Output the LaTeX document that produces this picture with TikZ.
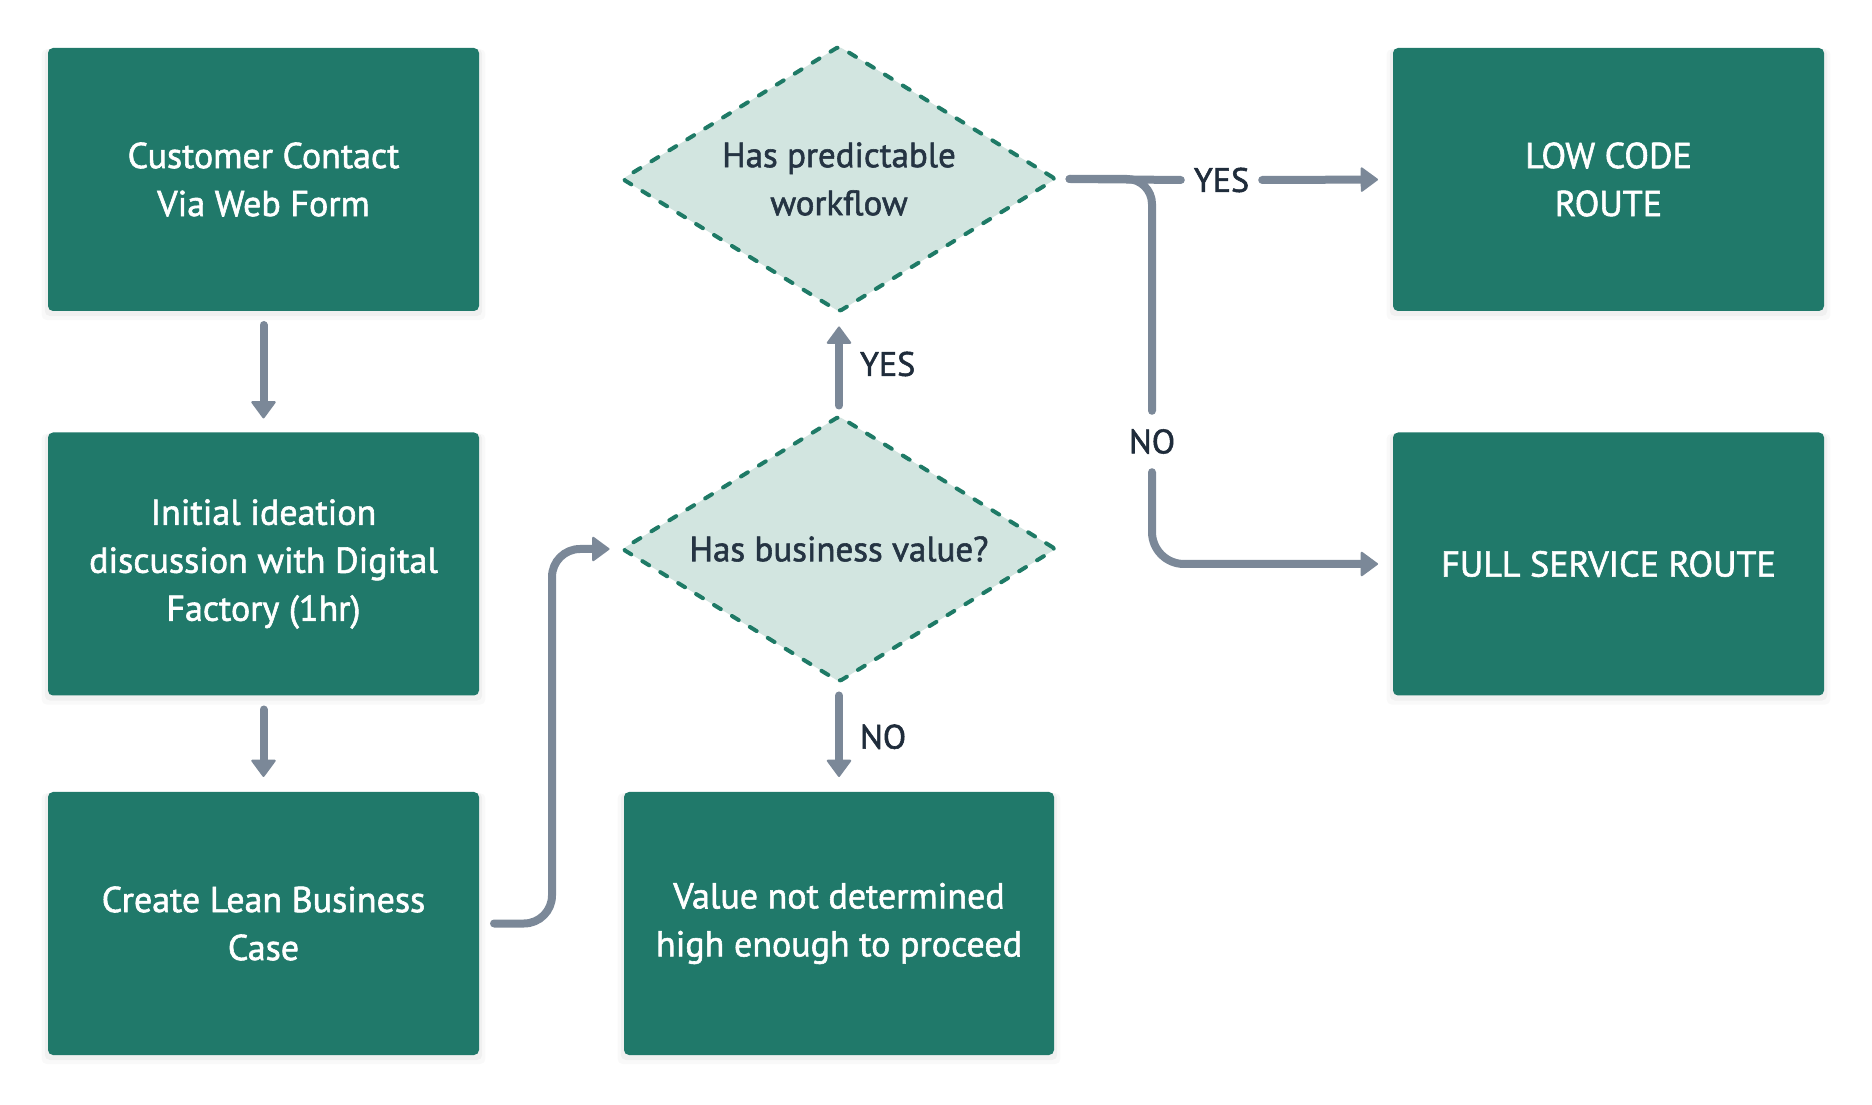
\documentclass[tikz,border=0pt]{standalone}
\usepackage{fontspec}
\setmainfont{PT Sans}[FakeBold=1.6]
\usetikzlibrary{shapes.geometric,arrows.meta,calc,shadows}
\definecolor{boxgreen}{HTML}{20796A}
\definecolor{diafill}{HTML}{D2E5E0}
\definecolor{diadash}{HTML}{1E7A66}
\definecolor{conngray}{HTML}{7B8898}
\definecolor{lbltext}{HTML}{1F2C3B}
\definecolor{diatext}{HTML}{253443}
\begin{document}
\begin{tikzpicture}[x=1pt,y=1pt,
  box/.style={rectangle, rounded corners=5pt, fill=boxgreen, text=white,
    minimum width=431pt, minimum height=263pt, inner sep=0pt, outer sep=0pt, align=center,
    font=\fontsize{36}{48}\selectfont,
    general shadow={shadow yshift=-5pt, shadow scale=1.03, fill=black, opacity=0.025},
    general shadow={shadow yshift=-3pt, shadow scale=1.015, fill=black, opacity=0.035}},
  dia/.style={diamond, fill=diafill, draw=diadash, line width=4pt, dash pattern=on 8pt off 13pt,
    line cap=round, rounded corners=3pt,
    minimum width=433pt, minimum height=265pt, shape aspect=1.63, inner sep=0pt, outer sep=0pt,
    align=center, text=diatext, font=\fontsize{35}{48}\selectfont},
  conn/.style={draw=conngray, line width=8pt, line cap=round, line join=round},
  arr/.style={conn, -{Triangle[length=18pt,width=26pt,line width=2pt,round]}},
  lbl/.style={text=lbltext, font=\fontsize{34}{40}\selectfont, inner sep=0pt},
]
\useasboundingbox (0,0) rectangle (1872,1104);
\fill[white] (0,0) rectangle (1872,1104);

% process boxes
\node[box] (b1) at (263.5,924.5) {Customer Contact\\Via Web Form};
\node[box] (b2) at (263.5,540) {Initial ideation\\discussion with Digital\\Factory (1hr)};
\node[box] (b3) at (263.5,180.5) {Create Lean Business\\Case};
\node[box, minimum width=430pt] (val) at (839,180.5) {Value not determined\\high enough to proceed};
\node[box] (low) at (1608.5,924.5) {LOW CODE\\ROUTE};
\node[box] (full) at (1608.5,540) {FULL SERVICE ROUTE};

% decisions
\node[dia] (d1) at (839,925) {Has predictable\\workflow};
\node[dia] (d2) at (839,555) {Has business value?};

% inline labels on the right branch
\node[lbl, minimum width=81pt, minimum height=30pt] (yes1) at (1221.5,924) {YES};
\node[lbl, minimum width=50pt, minimum height=61pt] (no1) at (1152,662.5) {NO};

% connectors
\draw[arr, shorten <=14pt, shorten >=14pt] (b1) -- (b2);
\draw[arr, shorten <=14pt, shorten >=15pt] (b2) -- (b3);
\draw[arr, rounded corners=28pt, shorten <=15pt, shorten >=13pt] (b3.east) -| (552,368) |- (d2.west);
\draw[arr, shorten <=11pt, shorten >=15pt] (d2.north) -- (d1.south)
  node[lbl, midway, anchor=west, xshift=17pt] {YES};
\draw[arr, shorten <=14pt, shorten >=15pt] (d2.south) -- (val.north)
  node[lbl, midway, anchor=west, xshift=17pt] {NO};

\draw[conn] ($(d1.east)+(14,0)$) -- (yes1.west);
\draw[arr, shorten >=15pt] (yes1.east) -- (low.west);
\draw[conn, rounded corners=25pt] ($(d1.east)+(14,0)$) -| (no1.north);
\draw[arr, rounded corners=32pt, shorten >=15pt] (no1.south) |- (full.west);
\end{tikzpicture}
\end{document}
